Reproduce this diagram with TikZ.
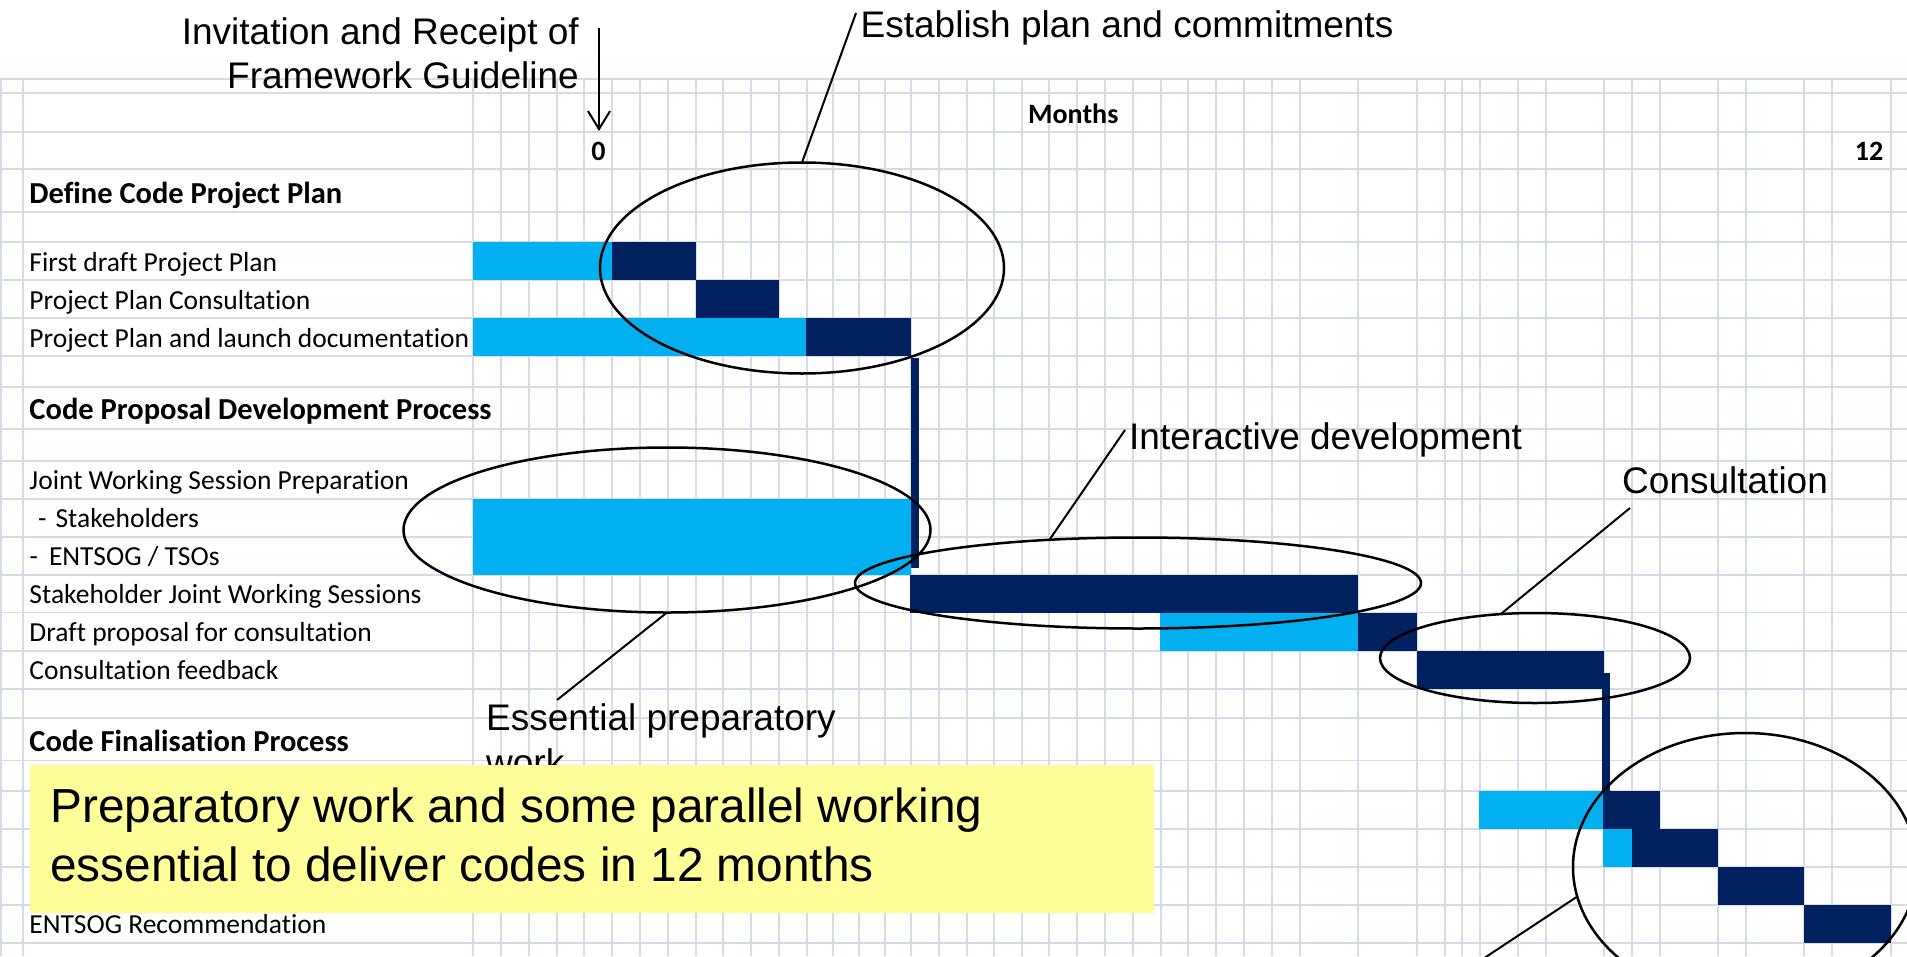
\documentclass[tikz,border=0pt]{standalone}
\usepackage{fontspec}
\setmainfont{Liberation Sans}
\newfontfamily\calfont[Ligatures={NoCommon}]{Carlito}
\usetikzlibrary{shapes.geometric,arrows.meta}
\definecolor{navy}{HTML}{002060}
\definecolor{lblue}{HTML}{00B0F0}
\definecolor{gridc}{HTML}{D5DBE7}
\definecolor{notey}{HTML}{FFFF99}
\tikzset{
  gridl/.style={draw=gridc, line width=1.8bp},
  darkbar/.style={fill=navy},
  lightbar/.style={fill=lblue},
  linkbar/.style={draw=navy, line width=8bp},
  rowlbl/.style={anchor=base west, inner sep=0, font=\calfont\fontsize{27.5bp}{33bp}\selectfont},
  colhead/.style={anchor=base west, inner sep=0, font=\calfont\bfseries\fontsize{28bp}{33bp}\selectfont},
  rowhead/.style={anchor=base west, inner sep=0, font=\calfont\bfseries\fontsize{30.5bp}{36bp}\selectfont},
  ann/.style={inner sep=0, font=\fontsize{37bp}{44.5bp}\selectfont},
  hoop/.style={draw=black, line width=2.5bp, ellipse, inner sep=0, outer sep=0},
  lead/.style={draw=black, line width=2bp},
  notebox/.style={fill=notey, inner sep=0, anchor=north west},
  notetext/.style={inner sep=0, align=left, anchor=north west, font=\fontsize{47.8bp}{58.6bp}\selectfont}
}
\begin{document}
\begin{tikzpicture}[x=1bp, y=-1bp]
\useasboundingbox (0,0) rectangle (1907,956);
\clip (0,0) rectangle (1907,956);
\fill[white] (0,0) rectangle (1907,956);
% grid
\foreach \yy in {79,93.3,131.7,169.3,211.7,242.3,280,318,356,386.7,428.9,460.8,498.7,536.9,574.7,612.5,650.8,688.6,718,760.5,791,829,866.7,905,942.7}
  \draw[gridl] (0,\yy) -- (1907,\yy);
\foreach \xx in {1,22.7,473.3,501,529,556.7,584.3,612.3,640,667.7,695.7,723.3,751,779,806.7,832.8,858.9,885,911,939,966.7,994,1021.7,1049.3,1077.3,1105,1132.7,1160.7,1188.3,1216,1244,1271.7,1300,1358.3,1416.7,1445,1462.3,1480,1518,1546,1604,1632,1660,1718,1746,1804,1832,1891}
  \draw[gridl] (\xx,79) -- (\xx,956);
% bars
\fill[lightbar] (473.3,242.3) rectangle (611.5,280);
\fill[darkbar] (611.5,242.3) rectangle (696,280);
\fill[darkbar] (696,280) rectangle (779,318);
\fill[lightbar] (473.3,318) rectangle (806,356);
\fill[darkbar] (806,318) rectangle (911,356);
\fill[lightbar] (473.3,498.5) rectangle (911,575);
\fill[darkbar] (910,574.7) rectangle (1358.3,612.5);
\fill[lightbar] (1160,612.5) rectangle (1358.3,650.8);
\fill[darkbar] (1358.3,612.5) rectangle (1417,650.8);
\fill[darkbar] (1417,650.8) rectangle (1604,688.6);
\fill[lightbar] (1479.3,791) rectangle (1603.3,829);
\fill[darkbar] (1603.3,791) rectangle (1660,829);
\fill[lightbar] (1603.3,829) rectangle (1631.7,866.7);
\fill[darkbar] (1631.7,829) rectangle (1718,866.7);
\fill[darkbar] (1718,866.7) rectangle (1804,905);
\fill[darkbar] (1804,905) rectangle (1891,942.7);
% link bars
\coordinate (k1a) at (915,357.7);
\coordinate (k1b) at (915,568.3);
\coordinate (k2a) at (1605.5,673.3);
\coordinate (k2b) at (1605.5,791.7);
\draw[linkbar] (k1a) -- (k1b);
\draw[linkbar] (k2a) -- (k2b);
% header texts
\node[colhead] (months) at (1028,123) {Months};
\node[colhead, anchor=base] (n0) at (598.5,160.3) {0};
\node[colhead, anchor=base east] (n12) at (1883.5,160.3) {12};
% row labels
\node[rowhead] (h1) at (29.3,203) {Define Code Project Plan};
\node[rowlbl] (r1) at (29.3,271) {First draft Project Plan};
\node[rowlbl] (r2) at (29.3,309) {Project Plan Consultation};
\node[rowlbl] (r3) at (29.3,347) {Project Plan and launch documentation};
\node[rowhead] (h2) at (29.3,419.5) {Code Proposal Development Process};
\node[rowlbl] (r4) at (29.3,489.8) {Joint Working Session Preparation};
\node[rowlbl] (r5) at (38,527.9) {-\hspace{9bp}Stakeholders};
\node[rowlbl] (r6) at (29.4,565.9) {-\hspace{11bp}ENTSOG / TSOs};
\node[rowlbl] (r7) at (29.3,603.7) {Stakeholder Joint Working Sessions};
\node[rowlbl] (r8) at (29.3,641.5) {Draft proposal for consultation};
\node[rowlbl] (r9) at (29.3,679.6) {Consultation feedback};
\node[rowhead] (h3) at (29.3,751) {Code Finalisation Process};
\node[rowlbl] (r10) at (29.3,933.7) {ENTSOG Recommendation};
% ellipses
\node[hoop, minimum width=404bp, minimum height=211bp] (eEst) at (802,268) {};
\node[hoop, minimum width=527bp, minimum height=165bp] (ePrep) at (667,530) {};
\node[hoop, minimum width=566bp, minimum height=91bp] (eInt) at (1138,583) {};
\node[hoop, minimum width=310bp, minimum height=90bp] (eCon) at (1535,658) {};
\node[hoop, minimum width=344bp, minimum height=268bp] (eFin) at (1745,867) {};
% annotation labels
\node[ann, align=right, anchor=north east] (lInv) at (579,17) {Invitation and Receipt of\\Framework Guideline};
\node[ann, anchor=base west] (lEst) at (860.5,37.7) {Establish plan and commitments};
\node[ann, anchor=base west] (lInt) at (1129,449) {Interactive development};
\node[ann, anchor=base west] (lCon) at (1622,493) {Consultation};
\node[ann, align=left, anchor=north west] (lPrep) at (486,703.5) {Essential preparatory\\work};
% leaders
\coordinate (cInv) at (599,28);
\coordinate (cZero) at (599,131);
\coordinate (cEst) at (856,13);
\coordinate (cPrep) at (557,700);
\coordinate (cInt) at (1125,430);
\coordinate (cCon) at (1630,508);
\coordinate (cFin) at (1451,980);
\draw[lead, -{Straight Barb[length=18bp,width=22bp]}] (cInv) -- (cZero);
\draw[lead] (eEst.north) -- (cEst);
\draw[lead] (ePrep.south) -- (cPrep);
\draw[lead] (eInt.154) -- (cInt);
\draw[lead] (eCon.128) -- (cCon);
\draw[lead] (eFin.190) -- (cFin);
% note
\node[notebox, minimum width=1124bp, minimum height=148bp] (note) at (30,765) {};
\node[notetext] (noteTxt) at (50,788) {Preparatory work and some parallel working\\essential to deliver codes in 12 months};
\end{tikzpicture}
\end{document}
